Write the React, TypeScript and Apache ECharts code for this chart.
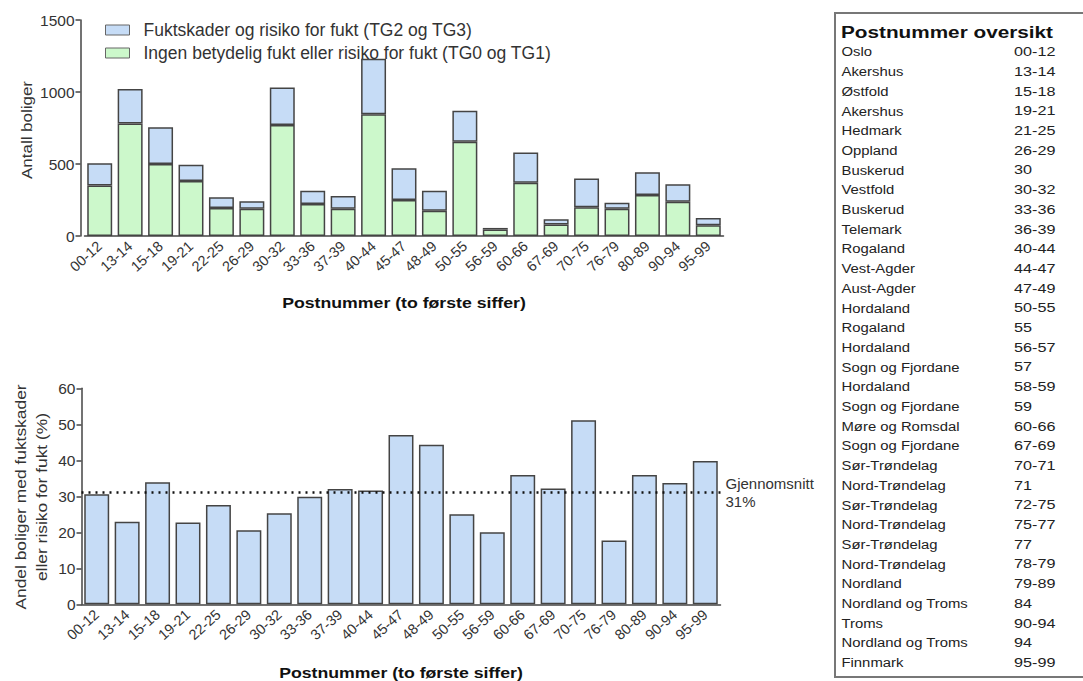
import React, { useEffect, useRef } from "react";
import * as echarts from "echarts";

const categories = ["00-12","13-14","15-18","19-21","22-25","26-29","30-32","33-36","37-39","40-44","45-47","48-49","50-55","56-59","60-66","67-69","70-75","76-79","80-89","90-94","95-99"];
const ingenFukt = [350, 782, 500, 382, 195, 190, 771, 222, 190, 845, 250, 176, 655, 45, 370, 79, 199, 190, 285, 238, 75];
const fuktskader = [155, 239, 255, 113, 74, 51, 261, 93, 88, 386, 220, 139, 215, 11, 209, 37, 201, 41, 157, 121, 50];
const andelProsent = [30.6, 22.9, 33.9, 22.7, 27.6, 20.6, 25.3, 29.9, 32.0, 31.6, 47.0, 44.3, 25.0, 20.0, 35.9, 32.2, 51.1, 17.7, 35.9, 33.7, 39.8];
const gjennomsnitt = 31;

const tableNames = ["Oslo","Akershus","Østfold","Akershus","Hedmark","Oppland","Buskerud","Vestfold","Buskerud","Telemark","Rogaland","Vest-Agder","Aust-Agder","Hordaland","Rogaland","Hordaland","Sogn og Fjordane","Hordaland","Sogn og Fjordane","Møre og Romsdal","Sogn og Fjordane","Sør-Trøndelag","Nord-Trøndelag","Sør-Trøndelag","Nord-Trøndelag","Sør-Trøndelag","Nord-Trøndelag","Nordland","Nordland og Troms","Troms","Nordland og Troms","Finnmark"];
const tableCodes = ["00-12","13-14","15-18","19-21","21-25","26-29","30","30-32","33-36","36-39","40-44","44-47","47-49","50-55","55","56-57","57","58-59","59","60-66","67-69","70-71","71","72-75","75-77","77","78-79","79-89","84","90-94","94","95-99"];

const FONT = "'Liberation Sans', Arial, sans-serif";
const TXT = "#333";
const AX = "#444";
const BLUE = "#c6dcf6";
const GREEN = "#ccf8cb";

export default function App() {
  const ref = useRef<HTMLDivElement>(null);
  useEffect(() => {
    const chart = echarts.init(ref.current!, null, { renderer: "svg" });

    const xAxisCommon = (gridIndex: number) => ({
      type: "category",
      gridIndex,
      data: categories,
      axisLine: { lineStyle: { color: AX, width: 1.5 } },
      axisTick: { alignWithLabel: true, length: 5, lineStyle: { color: AX, width: 1.5 } },
      axisLabel: { rotate: 42, fontSize: 14.5, color: TXT, fontFamily: FONT, margin: 8, interval: 0 },
    });

    const tableGraphics: any[] = [
      {
        type: "rect",
        shape: { x: 835, y: 13, width: 270, height: 664 },
        style: { fill: "#fff", stroke: "#777", lineWidth: 2 },
      },
      {
        type: "text",
        x: 841,
        y: 32,
        scaleX: 1.22,
        style: { text: "Postnummer oversikt", font: `bold 17px ${FONT}`, fill: "#111", textVerticalAlign: "middle" },
      },
    ];
    tableNames.forEach((n, i) => {
      const y = 51.7 + i * 19.7;
      tableGraphics.push({
        type: "text", x: 841.5, y, scaleX: 1.1,
        style: { text: n, font: `13.5px ${FONT}`, fill: "#222", textVerticalAlign: "middle" },
      });
      tableGraphics.push({
        type: "text", x: 1014, y, scaleX: 1.2,
        style: { text: tableCodes[i], font: `13.5px ${FONT}`, fill: "#222", textVerticalAlign: "middle" },
      });
    });

    chart.setOption({
      animation: false,
      textStyle: { fontFamily: FONT },
      legend: {
        left: 100,
        top: 16,
        orient: "vertical",
        icon: "rect",
        itemWidth: 24,
        itemHeight: 10,
        itemGap: 5,
        data: ["Fuktskader og risiko for fukt (TG2 og TG3)", "Ingen betydelig fukt eller risiko for fukt (TG0 og TG1)"],
        textStyle: { fontSize: 17.5, lineHeight: 14, color: TXT, fontFamily: FONT, padding: [0, 0, 0, 9] },
        itemStyle: { borderColor: "#666", borderWidth: 1 },
      },
      grid: [
        { left: 84.5, top: 20, width: 639, height: 216 },
        { left: 81.5, top: 388.3, width: 639, height: 216 },
      ],
      xAxis: [xAxisCommon(0), xAxisCommon(1)],
      yAxis: [
        {
          type: "value", gridIndex: 0, min: 0, max: 1500, interval: 500, offset: 4,
          splitLine: { show: false },
          axisLine: { show: true, lineStyle: { color: AX, width: 1.5 } },
          axisTick: { show: true, length: 5, lineStyle: { color: AX, width: 1.5 } },
          axisLabel: { fontSize: 15.5, color: TXT, fontFamily: FONT, margin: 6, formatter: (v: number) => String(v) },
        },
        {
          type: "value", gridIndex: 1, min: 0, max: 60, interval: 10,
          splitLine: { show: false },
          axisLine: { show: true, lineStyle: { color: AX, width: 1.5 } },
          axisTick: { show: true, length: 5, lineStyle: { color: AX, width: 1.5 } },
          axisLabel: { fontSize: 15.5, color: TXT, fontFamily: FONT, margin: 6 },
        },
      ],
      series: [
        {
          name: "Ingen betydelig fukt eller risiko for fukt (TG0 og TG1)",
          type: "bar", stack: "tot", xAxisIndex: 0, yAxisIndex: 0,
          data: ingenFukt, barCategoryGap: "18%",
          itemStyle: { color: GREEN, borderColor: AX, borderWidth: 1.5 },
        },
        {
          name: "Fuktskader og risiko for fukt (TG2 og TG3)",
          type: "bar", stack: "tot", xAxisIndex: 0, yAxisIndex: 0,
          data: fuktskader, barCategoryGap: "18%",
          itemStyle: { color: BLUE, borderColor: AX, borderWidth: 1.5 },
        },
        {
          name: "Andel",
          type: "bar", xAxisIndex: 1, yAxisIndex: 1,
          data: andelProsent, barCategoryGap: "18%",
          itemStyle: { color: BLUE, borderColor: AX, borderWidth: 1.5 },
          markLine: {
            silent: true,
            symbol: "none",
            lineStyle: { type: [2, 5], color: "#111", width: 2.5 },
            label: {
              show: true, position: "end", distance: 5,
              formatter: "Gjennomsnitt\n31%", fontSize: 15, color: TXT, fontFamily: FONT,
              align: "left", lineHeight: 18,
            },
            data: [{ yAxis: gjennomsnitt }],
          },
        },
      ],
      graphic: [
        {
          type: "text", x: 27, y: 130, rotation: Math.PI / 2, scaleX: 1.13,
          style: { text: "Antall boliger", font: `15px ${FONT}`, fill: TXT, textAlign: "center", textVerticalAlign: "middle" },
        },
        {
          type: "text", x: 31, y: 497, rotation: Math.PI / 2, scaleX: 1.16,
          style: { text: "Andel boliger med fuktskader\neller risiko for fukt (%)", font: `15px ${FONT}`, fill: TXT, textAlign: "center", textVerticalAlign: "middle", lineHeight: 21.5 },
        },
        {
          type: "text", x: 404, y: 303, scaleX: 1.18,
          style: { text: "Postnummer (to første siffer)", font: `bold 15px ${FONT}`, fill: "#111", textAlign: "center", textVerticalAlign: "middle" },
        },
        {
          type: "text", x: 401, y: 673, scaleX: 1.18,
          style: { text: "Postnummer (to første siffer)", font: `bold 15px ${FONT}`, fill: "#111", textAlign: "center", textVerticalAlign: "middle" },
        },
        ...tableGraphics,
      ],
    });
    return () => chart.dispose();
  }, []);
  return <div ref={ref} style={{ position: "fixed", left: 0, top: 0, width: 1083, height: 681, background: "#fff" }} />;
}
